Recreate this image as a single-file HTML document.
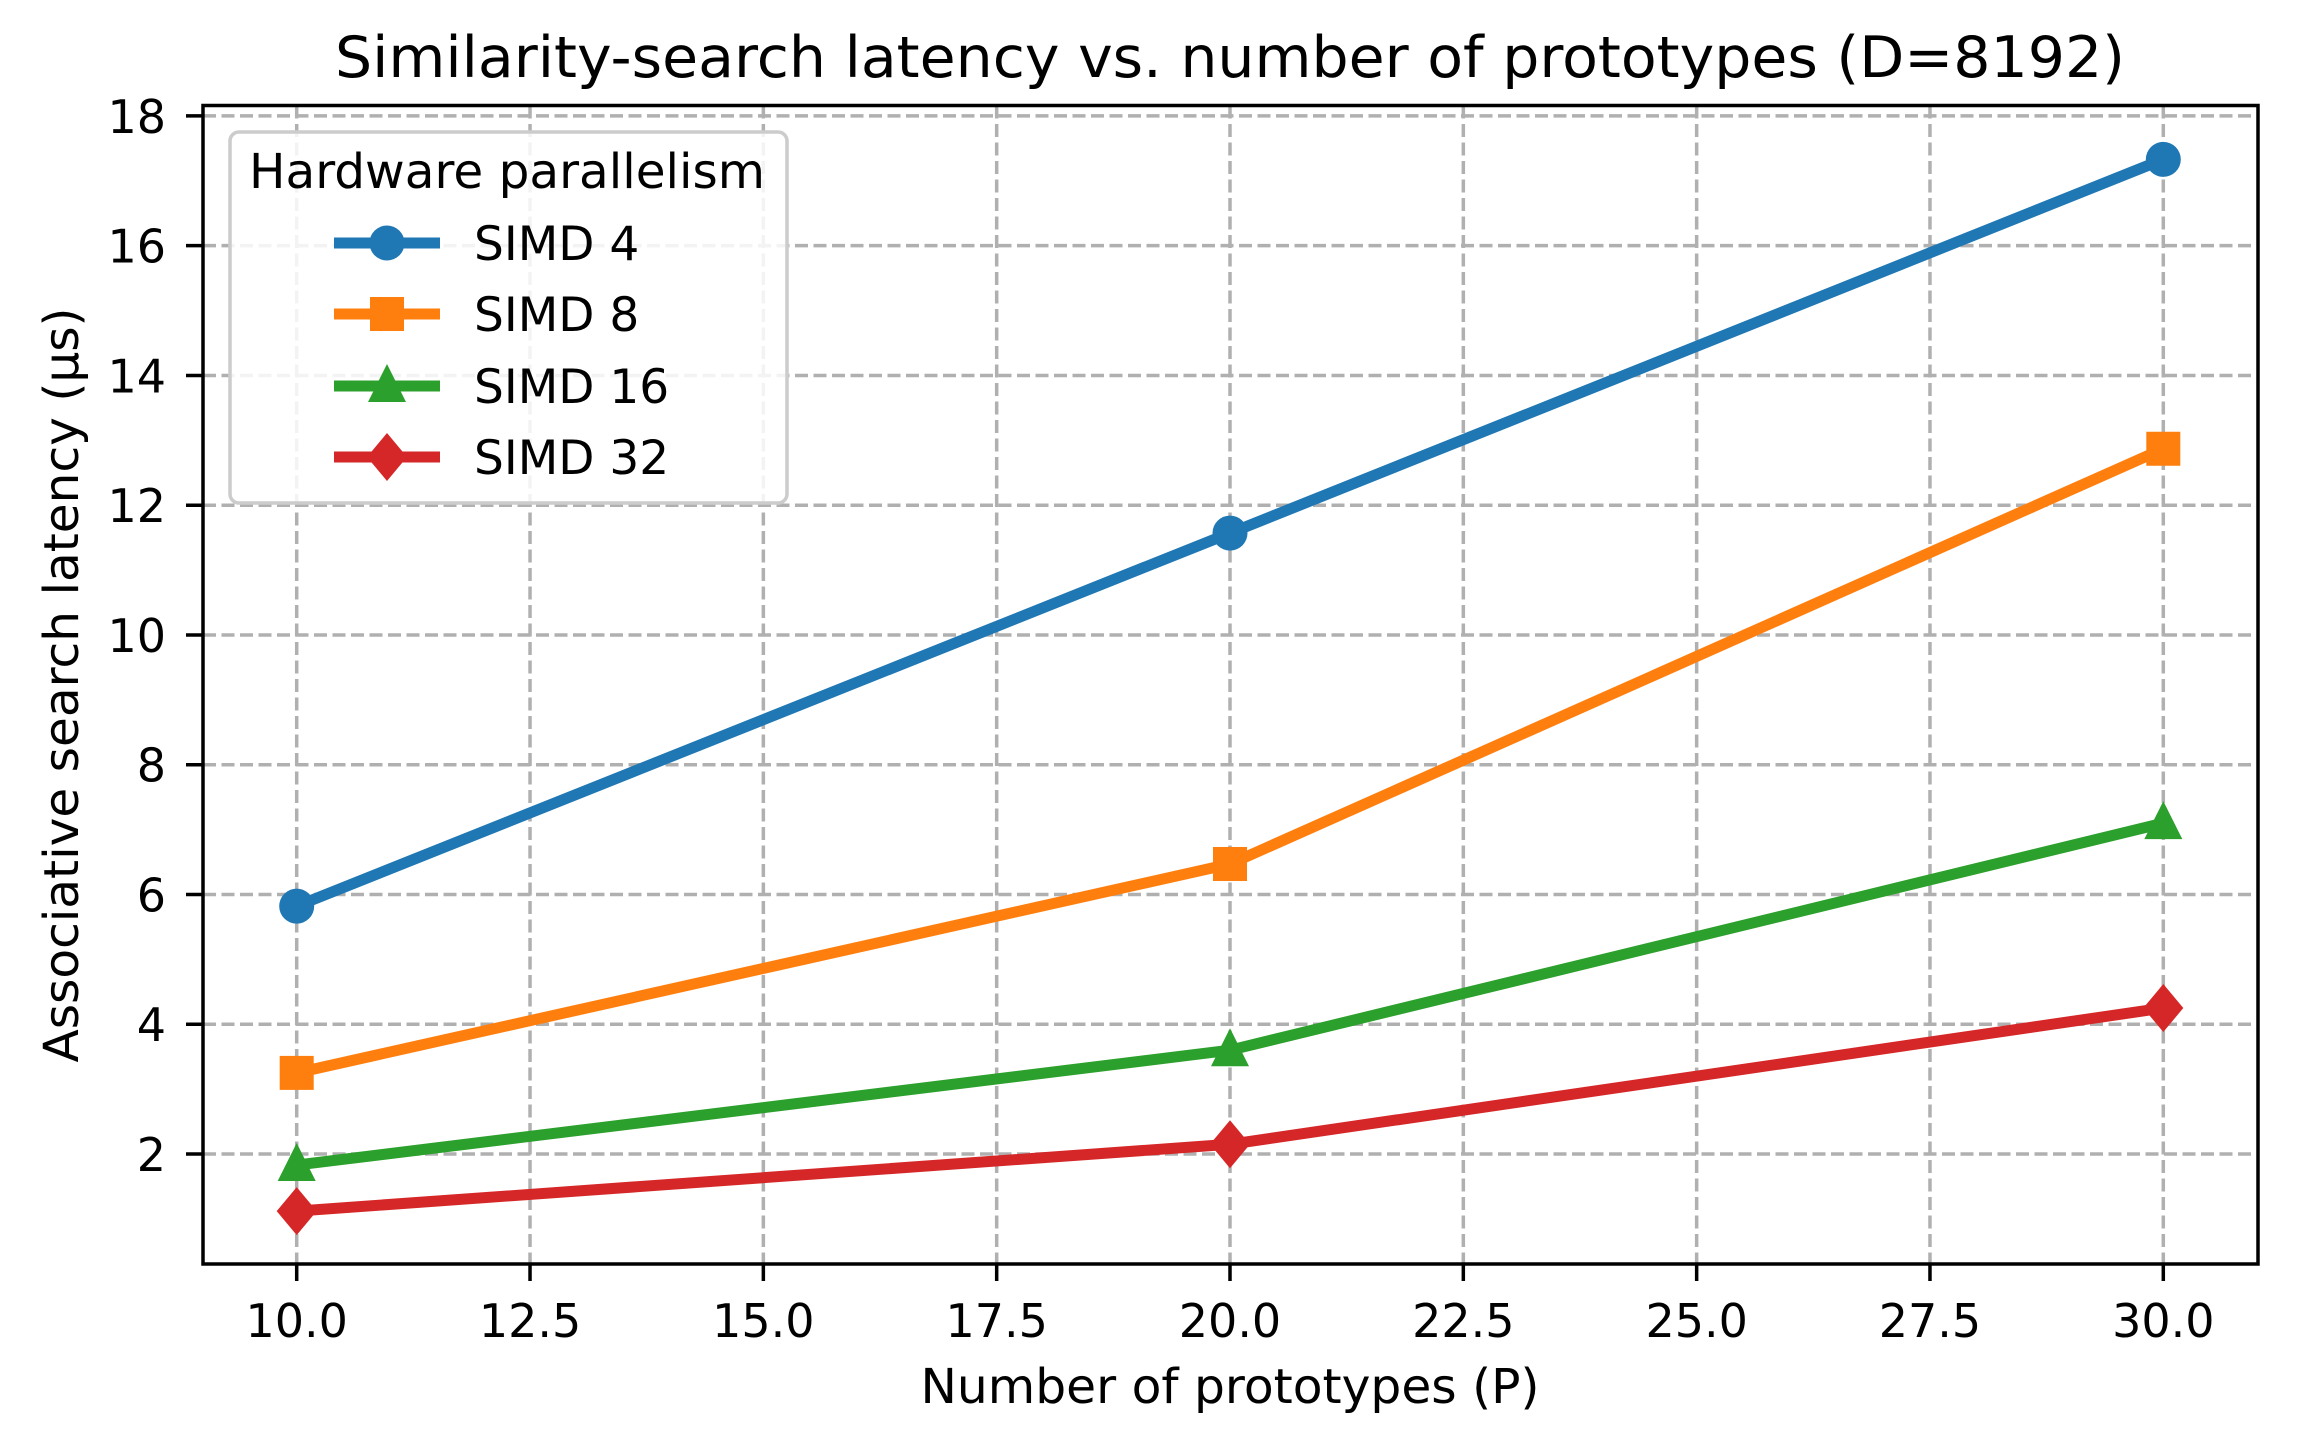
<!DOCTYPE html>
<html><head><meta charset="utf-8"><style>
html,body{margin:0;padding:0;background:#fff;}
svg{display:block;font-family:"DejaVu Sans","Liberation Sans",sans-serif;}
</style></head><body>
<svg id="chart" width="2299" height="1441" viewBox="0 0 2299 1441" xmlns="http://www.w3.org/2000/svg">
<rect width="2299" height="1441" fill="#fff"/>
<g id="grid"></g>
<g id="series"></g>
<rect x="203" y="105.5" width="2055" height="1158.5" fill="none" stroke="#000" stroke-width="3.5"/>
<g id="ticks"></g>
<text x="1230" y="77" font-size="57" text-anchor="middle" textLength="1790" lengthAdjust="spacingAndGlyphs">Similarity-search latency vs. number of prototypes (D=8192)</text>
<text x="1230" y="1403" font-size="48" text-anchor="middle" textLength="619" lengthAdjust="spacingAndGlyphs">Number of prototypes (P)</text>
<text transform="translate(78,685) rotate(-90)" font-size="48" text-anchor="middle" textLength="755" lengthAdjust="spacingAndGlyphs">Associative search latency (µs)</text>
<g id="legend">
<rect x="230" y="132" width="557" height="371" rx="9" fill="#fff" fill-opacity="0.85" stroke="#cccccc" stroke-width="3.5"/>
<text x="249" y="188" font-size="48" textLength="516" lengthAdjust="spacingAndGlyphs">Hardware parallelism</text>
</g>
</svg>
<script>
const categories = [10, 20, 30];
const seriesNames = ["SIMD 4", "SIMD 8", "SIMD 16", "SIMD 32"];
const simd4 = [5.82, 11.57, 17.33];
const simd8 = [3.25, 6.47, 12.87];
const simd16 = [1.83, 3.60, 7.10];
const simd32 = [1.12, 2.15, 4.25];
const xTicks = [10, 12.5, 15, 17.5, 20, 22.5, 25, 27.5, 30];
const xTickLabels = ["10.0","12.5","15.0","17.5","20.0","22.5","25.0","27.5","30.0"];
const yTicks = [2, 4, 6, 8, 10, 12, 14, 16, 18];
const yTickLabels = ["2","4","6","8","10","12","14","16","18"];

const NS = "http://www.w3.org/2000/svg";
const L = 203, R = 2258, T = 105.5, B = 1264;
function xs(v){ return 296.7 + (v - 10) * 93.33; }
function ys(v){ return 1154 - (v - 2) * 64.88; }
function mk(tag, attrs, parent){ const e = document.createElementNS(NS, tag); for (const k in attrs) e.setAttribute(k, attrs[k]); parent.appendChild(e); return e; }

const grid = document.getElementById('grid');
const ticks = document.getElementById('ticks');
xTicks.forEach((t, i) => {
  const x = xs(t);
  const g = mk('line', {x1:x, x2:x, y1:T, y2:B, stroke:'#b0b0b0', 'stroke-width':3.5, 'stroke-dasharray':'13,5.5'}, grid);
  
  
  const tk = mk('line', {x1:x, x2:x, y1:B, y2:B+17, stroke:'#000', 'stroke-width':3.5}, ticks);
  
  
  const lb = mk('text', {x:x, y:1337, 'font-size':46, 'text-anchor':'middle'}, ticks);
  lb.textContent = xTickLabels[i];
  
  
});
yTicks.forEach((t, i) => {
  const y = ys(t);
  const g = mk('line', {x1:L, x2:R, y1:y, y2:y, stroke:'#b0b0b0', 'stroke-width':3.5, 'stroke-dasharray':'13,5.5'}, grid);
  
  
  const tk = mk('line', {x1:L-17, x2:L, y1:y, y2:y, stroke:'#000', 'stroke-width':3.5}, ticks);
  
  
  const lb = mk('text', {x:166, y:y+17, 'font-size':46, 'text-anchor':'end'}, ticks);
  lb.textContent = yTickLabels[i];
  
  
});

const colors = ['#1f77b4', '#ff7f0e', '#2ca02c', '#d62728'];
const shapes = ['circle', 'square', 'triangle', 'diamond'];
const allSeries = [simd4, simd8, simd16, simd32];
function marker(shape, cx, cy, color, parent){
  let e;
  if (shape === 'circle') e = mk('circle', {cx:cx, cy:cy, r:17.5, fill:color}, parent);
  else if (shape === 'square') e = mk('rect', {x:cx-17, y:cy-17, width:34, height:34, fill:color}, parent);
  else if (shape === 'triangle') e = mk('polygon', {points:`${cx},${cy-22} ${cx+19},${cy+16} ${cx-19},${cy+16}`, fill:color}, parent);
  else e = mk('polygon', {points:`${cx},${cy-24} ${cx+20},${cy} ${cx},${cy+24} ${cx-20},${cy}`, fill:color}, parent);
  return e;
}
const sg = document.getElementById('series');
allSeries.forEach((vals, si) => {
  const g = mk('g', {}, sg);
  
  
  const pts = vals.map((v, i) => xs(categories[i]) + ',' + ys(v)).join(' ');
  const pl = mk('polyline', {points:pts, fill:'none', stroke:colors[si], 'stroke-width':11, 'stroke-linejoin':'round', 'stroke-linecap':'square'}, g);
  
  
  vals.forEach((v, i) => {
    const m = marker(shapes[si], xs(categories[i]), ys(v), colors[si], g);
    
    
  });
});

const lg = document.getElementById('legend');
const rowY = [243, 314, 386, 457];
seriesNames.forEach((name, si) => {
  const g = mk('g', {}, lg);
  
  
  mk('line', {x1:334, x2:440, y1:rowY[si], y2:rowY[si], stroke:colors[si], 'stroke-width':11}, g);
  marker(shapes[si], 387, rowY[si], colors[si], g);
  const t = mk('text', {x:474, y:rowY[si]+17, 'font-size':47}, g);
  t.textContent = name;
});
</script>
</body></html>
